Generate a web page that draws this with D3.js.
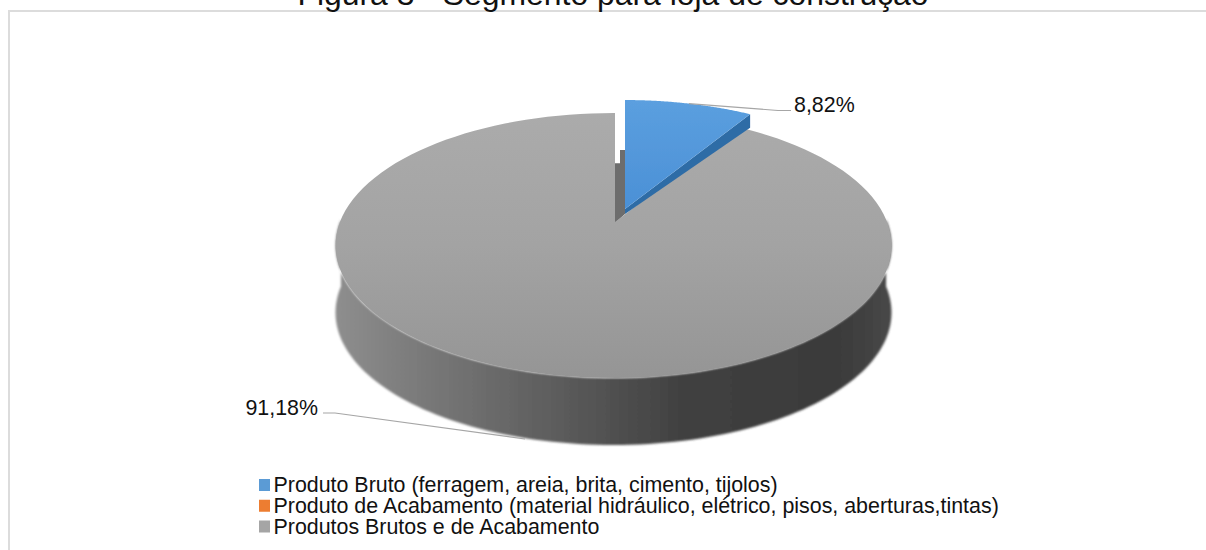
<!DOCTYPE html>
<html>
<head>
<meta charset="utf-8">
<script src="https://cdn.jsdelivr.net/npm/d3@7"></script>
<style>
  html, body { margin: 0; background: #fff; }
  svg { display: block; }
  text { font-family: "Liberation Sans", Arial, sans-serif; fill: #111; }
</style>
</head>
<body>
<svg id="chart" width="1206" height="550"></svg>
<script>
const titleText = "Figura 3 - Segmento para loja de construção";
const categories = [
  "Produto Bruto (ferragem, areia, brita, cimento, tijolos)",
  "Produto de Acabamento (material hidráulico, elétrico, pisos, aberturas,tintas)",
  "Produtos Brutos e de Acabamento"
];
const values = [8.82, 0, 91.18];
const valueLabels = ["8,82%", "", "91,18%"];
const colors = ["#5b9bd5", "#ed7d31", "#a5a5a5"];

const W = 1206, H = 550;
const svg = d3.select("#chart").attr("viewBox", [0, 0, W, H]);

// Perspective disc: the hub sits above the middle of the projected ellipse.
const hub = { x: 613.5, y: 222 };
const persp = 0.1775, spanX = 273.6, spanY = 128.3, wallDepth = 67;
const cutShift = 1.5;
function project(theta, origin = hub, drop = 0) {
  const d = 1 + persp * Math.cos(theta);
  return [
    origin.x + spanX * Math.sin(theta) / d,
    origin.y - spanY * Math.cos(theta) / d + drop
  ];
}
const pie = d3.pie().sort(null).value(d => d)(values);
const sweep = (a, b) => d3.range(0, 121).map(i => a + (b - a) * i / 120);
const line = d3.line();

const defs = svg.append("defs");
const grad = (id, x2, y2, stops) => {
  const g = defs.append("linearGradient").attr("id", id)
    .attr("x1", 0).attr("y1", 0).attr("x2", x2).attr("y2", y2);
  stops.forEach(([o, c]) => g.append("stop").attr("offset", o).attr("stop-color", c));
};
grad("faceGray", 0, 1, [[0, "#ababab"], [0.5, "#a3a3a3"], [1, "#959595"]]);
grad("wallGray", 1, 0, [[0, "#8e8e8e"], [0.15, "#7a7a7a"], [0.4, "#5c5c5c"], [0.62, "#414141"], [0.9, "#3a3a3a"], [1, "#484848"]]);
grad("faceBlue", 0, 1, [[0, "#5b9fdf"], [1, "#4b90d6"]]);
defs.append("filter").attr("id", "soft").attr("x", "-5%").attr("y", "-5%").attr("width", "110%").attr("height", "110%")
  .append("feGaussianBlur").attr("stdDeviation", 1.2);
defs.append("filter").attr("id", "edge").append("feGaussianBlur").attr("stdDeviation", 0.5);

// Page frame behind the chart
svg.append("path").attr("d", `M9,${H}V11H${W}`)
  .attr("fill", "none").attr("stroke", "#dcdcdc").attr("stroke-width", 2);

svg.append("text").attr("x", 613).attr("y", 4.5).attr("text-anchor", "middle")
  .attr("font-size", 31.9).text(titleText);

const big = pie[2], small = pie[0];
const slice = { theta0: big.startAngle, theta1: big.endAngle };

// Outer wall of the large slice: lower half of the rim, dropped by the depth
const frontAngles = sweep(Math.PI * 0.5 - 0.02, Math.PI * 1.5 + 0.02);
const rimTop = frontAngles.map(t => project(t));
const rimBottom = frontAngles.map(t => project(t, hub, wallDepth)).reverse();
svg.append("path").attr("d", line(rimTop.concat(rimBottom)) + "Z")
  .attr("fill", "url(#wallGray)").attr("filter", "url(#soft)");

// Inner wall showing through the gap beside the detached slice
const gapX = d3.scaleLinear().domain([0, 1]).range([hub.x + cutShift, hub.x + 11.5]);
const gapY = d3.scaleLinear().domain([0, 1]).range([hub.y + 1, hub.y - 72]);
svg.append("path")
  .attr("d", line([[gapX(0), gapY(0)], [gapX(1), gapY(0) - 9], [gapX(1), gapY(1)], [gapX(0.5), gapY(1)], [gapX(0.5), gapY(0.82)], [gapX(0), gapY(0.82)]]) + "Z")
  .attr("fill", "#6d6d6d");

// Top face of the large slice, its cut edge standing just right of the hub
const closing = project(slice.theta1);
svg.append("path")
  .attr("d", line([[hub.x + cutShift, hub.y]]
    .concat(sweep(slice.theta0, slice.theta1).map(t => project(t)))
    .concat([[closing[0] + cutShift, closing[1]]])) + "Z")
  .attr("fill", "url(#faceGray)").attr("filter", "url(#edge)");

// Detached slice: wall first, then its face
const off = { x: hub.x + 11.5, y: hub.y - 13 };
const tip = project(small.endAngle, off);
const tipDrop = 13.5, apexDrop = 5;
svg.append("path")
  .attr("d", line([[off.x, off.y], tip, [tip[0], tip[1] + tipDrop], [off.x, off.y + apexDrop]]) + "Z")
  .attr("fill", "#2f6ca6").attr("filter", "url(#edge)");
svg.append("path")
  .attr("d", line([[off.x, off.y]].concat(sweep(small.startAngle, small.endAngle).map(t => project(t, off)))) + "Z")
  .attr("fill", "url(#faceBlue)").attr("filter", "url(#edge)");

// Data labels and their leader lines
const leaders = [
  { i: 0, from: project((small.startAngle + small.endAngle) / 2, off), elbow: [778, 110.5], to: [791, 110.5], x: 794, y: 112, anchor: "start" },
  { i: 2, from: [525, 439], elbow: [335, 413], to: [323, 413], x: 318, y: 414.5, anchor: "end" }
];
leaders.forEach(l => {
  svg.append("path").attr("d", line([l.from, l.elbow, l.to]))
    .attr("fill", "none").attr("stroke", "#a6a6a6").attr("stroke-width", 1.2);
  svg.append("text").attr("x", l.x).attr("y", l.y).attr("text-anchor", l.anchor)
    .attr("font-size", 21.4).text(valueLabels[l.i]);
});

// Legend
const legend = svg.append("g");
const rowY = d3.scalePoint().domain(d3.range(categories.length)).range([492, 533.5]);
categories.forEach((c, i) => {
  legend.append("rect").attr("x", 259).attr("y", rowY(i) - 13).attr("width", 11).attr("height", 12)
    .attr("fill", colors[i]);
  legend.append("text").attr("x", 273.5).attr("y", rowY(i)).attr("font-size", 21.4).text(c);
});
</script>
</body>
</html>
